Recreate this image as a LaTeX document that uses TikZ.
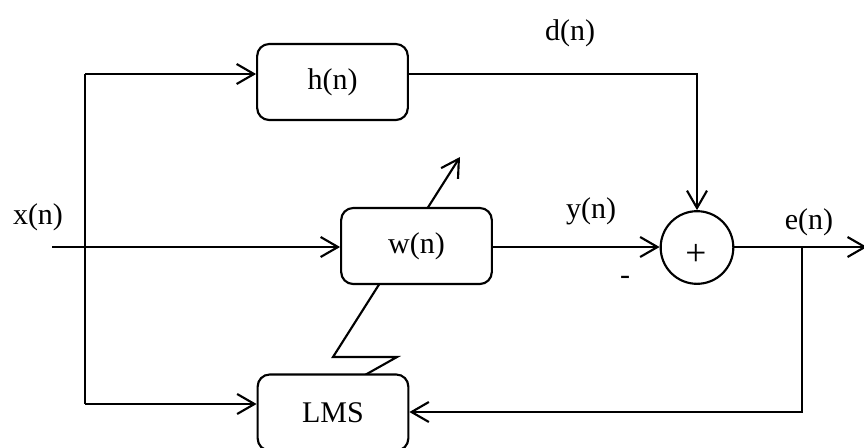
\documentclass[tikz,border=0pt]{standalone}
\usepackage{fontspec}
\setmainfont{Liberation Serif}
\usetikzlibrary{arrows.meta,backgrounds}
\begin{document}
\begin{tikzpicture}[x=0.75pt,y=-0.75pt,line width=1.6pt,
  >={Straight Barb[length=13pt,width=15pt]},
  lbl/.style={inner sep=0pt,font=\fontsize{22.5}{27}\selectfont},
  blk/.style={draw,rounded corners=9pt,fill=white,minimum width=113pt,minimum height=57pt,inner sep=0pt,font=\fontsize{22.5}{27}\selectfont},
  sumnode/.style={draw,circle,fill=white,minimum size=54.5pt,inner sep=0pt},
  adapt/.style={line width=1.6pt,-{Straight Barb[length=13pt,width=15pt]}}]
\useasboundingbox (0,0) rectangle (864,447);
\clip (0,0) rectangle (864,447);
% blocks
\node[blk] (h) at (332.5,82) {h(n)};
\node[blk] (w) at (416.5,246) {w(n)};
\node[blk] (lms) at (333,412.5) {LMS};
\node[sumnode] (sum) at (697,247.5) {};
\node[lbl,font=\fontsize{28}{32}\selectfont] (plus) at (696,255) {+};
% coordinates
\coordinate (xin) at (52,247);
\coordinate (tl) at (85,74);
\coordinate (bl) at (85,404);
\coordinate (tr) at (697,74);
\coordinate (br) at (802,247);
\coordinate (bb) at (802,412);
\coordinate (out) at (867,247);
% connectors
\draw (tl) -- (bl);
\draw[->] (tl) -- (h.west |- tl);
\draw[->] (bl) -- (lms.west |- bl);
\draw[->] (xin) -- (xin -| w.west);
\draw[->] (h.east |- tl) -- (tr) -- (sum.north);
\draw[->] (w.east |- xin) -- (sum.west |- xin);
\draw[->] (sum.east |- xin) -- (out);
\draw[->] (br) -- (bb) -- (bb -| lms.east);
% adaptation arrow behind w(n)
\coordinate (z0) at (365,375);
\coordinate (z1) at (397,357);
\coordinate (z2) at (333,357);
\coordinate (z3) at (460,157);
\begin{scope}[on background layer]
\draw[adapt] (z0) -- (z1) -- (z2) -- (z3);
\end{scope}
% labels
\node[lbl] (xl) at (38,217) {x(n)};
\node[lbl] (dl) at (570,33) {d(n)};
\node[lbl] (yl) at (591,211) {y(n)};
\node[lbl] (el) at (809,222) {e(n)};
\node[lbl] (ml) at (625,280) {-};
\end{tikzpicture}
\end{document}
